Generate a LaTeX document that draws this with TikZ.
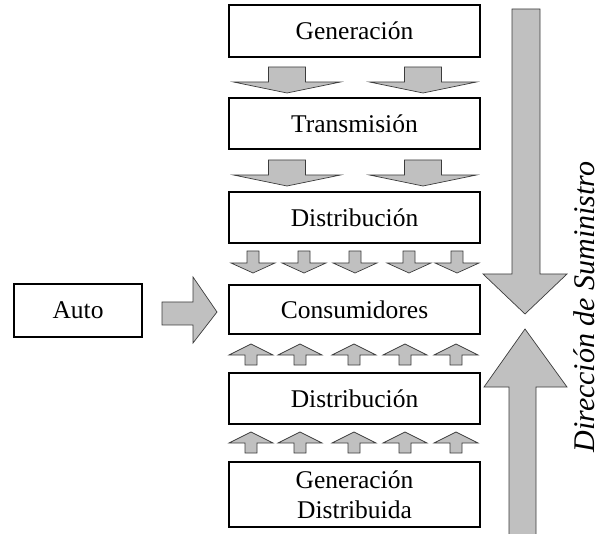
\documentclass[tikz,border=0pt]{standalone}
\usepackage{fontspec}
\setmainfont{Liberation Serif}
\definecolor{agray}{RGB}{192,192,192}
\definecolor{aline}{RGB}{60,60,60}
\begin{document}
\begin{tikzpicture}[x=1pt,y=-1pt,
  box/.style={draw=black, line width=2.6pt, fill=white, minimum width=251pt, inner sep=0pt,
    font=\fontsize{25.5}{30}\selectfont, align=center},
  arr/.style={fill=agray, draw=aline, line width=0.7pt, line join=miter}]
\useasboundingbox (0,0) rectangle (602,534);

% big supply arrows
\draw[arr] (512,9) -- (540,9) -- (540,274) -- (567,274) -- (525,314) -- (483,274) -- (512,274) -- cycle;
\draw[arr] (509,540) -- (509,387) -- (484,387) -- (525,329) -- (567,387) -- (536,387) -- (536,540);

% boxes
\node[box, minimum height=52pt] (gen) at (354.5,31) {Generación};
\node[box, minimum height=51pt] (trans) at (354.5,123.5) {Transmisión};
\node[box, minimum height=51pt] (dist) at (354.5,217.5) {Distribución};
\node[box, minimum height=49pt] (cons) at (354.5,309.5) {Consumidores};
\node[box, minimum height=51pt] (dist2) at (354.5,398.5) {Distribución};
\node[box, minimum height=65pt] (gd) at (354.5,494.5) {Generación\\Distribuida};
\node[box, minimum width=128pt, minimum height=53pt] (auto) at (78,310.5) {Auto};

% large down arrows
\foreach \cx in {287,423}{
  \foreach \ty in {67,160}{
    \draw[arr] (\cx-18.5,\ty) -- (\cx+18.5,\ty) -- (\cx+18.5,\ty+15) -- (\cx+53.5,\ty+15)
      -- (\cx,\ty+26) -- (\cx-53.5,\ty+15) -- (\cx-18.5,\ty+15) -- cycle;
  }
}
% small down arrows
\foreach \cx in {253,304,355,409,457}{
  \draw[arr] (\cx-6,251) -- (\cx+6,251) -- (\cx+6,263) -- (\cx+22,263)
    -- (\cx,273) -- (\cx-22,263) -- (\cx-6,263) -- cycle;
}
% small up arrows
\foreach \cx in {251,300,354,405,456}{
  \foreach \ty in {344,432}{
    \draw[arr] (\cx,\ty) -- (\cx+22,\ty+11) -- (\cx+6,\ty+11) -- (\cx+6,\ty+21)
      -- (\cx-6,\ty+21) -- (\cx-6,\ty+11) -- (\cx-22,\ty+11) -- cycle;
  }
}
% auto arrow
\draw[arr] (162,302) -- (193,302) -- (193,277) -- (217,312) -- (193,343) -- (193,325) -- (162,325) -- cycle;

\node[rotate=90, font=\fontsize{30}{34}\selectfont\itshape] (dir) at (584,307) {Dirección de Suministro};
\end{tikzpicture}
\end{document}
